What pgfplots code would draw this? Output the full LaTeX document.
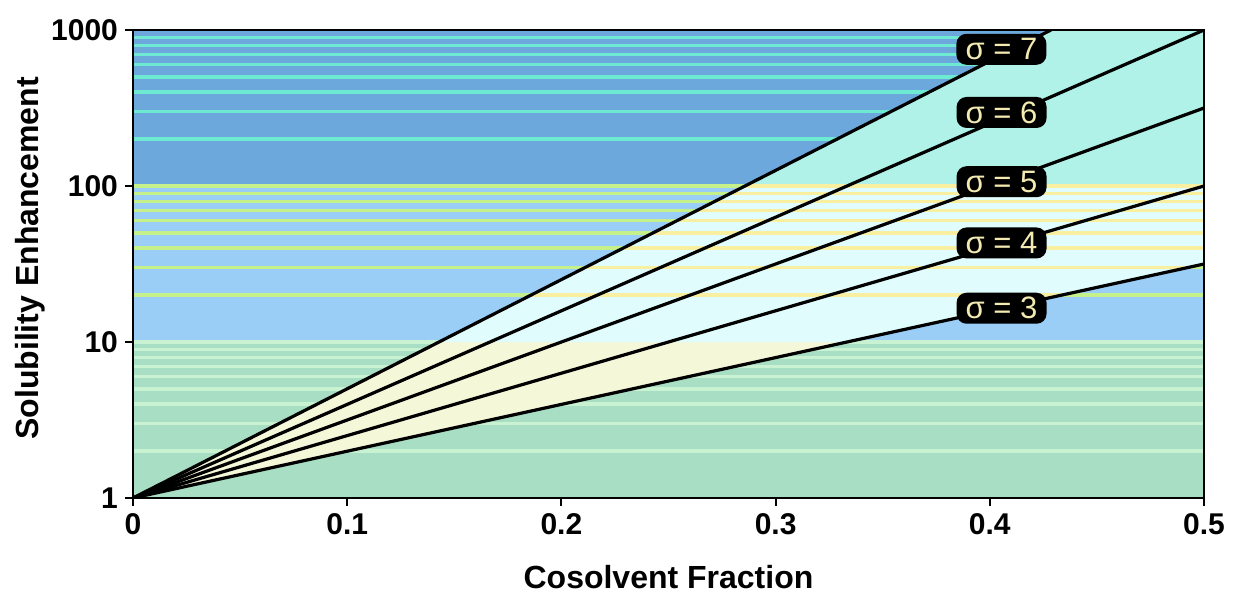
\documentclass[border=0pt]{standalone}
\usepackage{pgfplots}
\pgfplotsset{compat=1.18}
\usepackage{fontspec}
\setmainfont{Liberation Sans}
\definecolor{upbg}{HTML}{6CA8DC}
\definecolor{upline}{HTML}{6EEAD2}
\definecolor{midbg}{HTML}{9ACEF6}
\definecolor{midline}{HTML}{C6F08A}
\definecolor{lowbg}{HTML}{A8DEC4}
\definecolor{lowline}{HTML}{C8F2D2}
\definecolor{upfan}{HTML}{B0F2E8}
\definecolor{midfan}{HTML}{E0FCFC}
\definecolor{midfanline}{HTML}{F8F0A0}
\definecolor{lowfan}{HTML}{F4F7D8}
\definecolor{lbltext}{HTML}{F2EAB0}
\pgfplotsset{
  hl/.style={line width=1.6pt, forget plot},
  curve/.style={black, line width=1.6pt, forget plot},
}
\tikzset{
  lbl/.style={fill=black, text=lbltext, rounded corners=5pt, font=\fontsize{15.5}{16}\selectfont, minimum width=45pt, minimum height=15.5pt, inner sep=1pt},
}
\begin{document}
\begin{tikzpicture}
\begin{axis}[
  scale only axis, width=535.5pt, height=234pt,
  ymode=log, xmin=0, xmax=0.5, ymin=1, ymax=1000,
  xtick={0,0.1,0.2,0.3,0.4,0.5}, xticklabels={0,0.1,0.2,0.3,0.4,0.5},
  ytick={1,10,100,1000}, yticklabels={1,10,100,1000},
  yminorticks=false,
  tick align=outside, xtick pos=bottom, ytick pos=left, major tick length=4pt,
  tick style={black, line width=1pt},
  ticklabel style={font=\bfseries\fontsize{15}{15}\selectfont},
  /pgf/number format/assume math mode=true,
  xlabel={Cosolvent Fraction}, ylabel={Solubility Enhancement},
  label style={font=\bfseries\fontsize{16}{16}\selectfont},
  xlabel style={at={(axis description cs:0.5,-0.168)}, anchor=center},
  ylabel style={at={(axis description cs:-0.0962,0.512)}, anchor=center},
  axis on top,
  axis line style={black, line width=1.2pt},
]
% decade backgrounds
\addplot[fill=lowbg, draw=none, forget plot] coordinates {(0,1) (0.5,1) (0.5,10) (0,10)} -- cycle;
\addplot[fill=midbg, draw=none, forget plot] coordinates {(0,10) (0.5,10) (0.5,100) (0,100)} -- cycle;
\addplot[fill=upbg, draw=none, forget plot] coordinates {(0,100) (0.5,100) (0.5,1000) (0,1000)} -- cycle;
% decade lines 1-10
\addplot[hl, lowline] coordinates {(0,2) (0.5,2)};
\addplot[hl, lowline] coordinates {(0,3) (0.5,3)};
\addplot[hl, lowline] coordinates {(0,4) (0.5,4)};
\addplot[hl, lowline] coordinates {(0,5) (0.5,5)};
\addplot[hl, lowline] coordinates {(0,6) (0.5,6)};
\addplot[hl, lowline] coordinates {(0,7) (0.5,7)};
\addplot[hl, lowline] coordinates {(0,8) (0.5,8)};
\addplot[hl, lowline] coordinates {(0,9) (0.5,9)};
\addplot[hl, lowline] coordinates {(0,10) (0.5,10)};
% decade lines 10-100
\addplot[hl, midline] coordinates {(0,20) (0.5,20)};
\addplot[hl, midline] coordinates {(0,30) (0.5,30)};
\addplot[hl, midline] coordinates {(0,40) (0.5,40)};
\addplot[hl, midline] coordinates {(0,50) (0.5,50)};
\addplot[hl, midline] coordinates {(0,60) (0.5,60)};
\addplot[hl, midline] coordinates {(0,70) (0.5,70)};
\addplot[hl, midline] coordinates {(0,80) (0.5,80)};
\addplot[hl, midline] coordinates {(0,90) (0.5,90)};
\addplot[hl, midline] coordinates {(0,100) (0.5,100)};
% decade lines 100-1000
\addplot[hl, upline] coordinates {(0,200) (0.5,200)};
\addplot[hl, upline] coordinates {(0,300) (0.5,300)};
\addplot[hl, upline] coordinates {(0,400) (0.5,400)};
\addplot[hl, upline] coordinates {(0,500) (0.5,500)};
\addplot[hl, upline] coordinates {(0,600) (0.5,600)};
\addplot[hl, upline] coordinates {(0,700) (0.5,700)};
\addplot[hl, upline] coordinates {(0,800) (0.5,800)};
\addplot[hl, upline] coordinates {(0,900) (0.5,900)};
% fan regions
\addplot[fill=lowfan, draw=none, forget plot] coordinates {(0,1) (0.333333,10) (0.142857,10)} -- cycle;
\addplot[fill=midfan, draw=none, forget plot] coordinates {(0.142857,10) (0.333333,10) (0.5,31.6228) (0.5,100) (0.285714,100)} -- cycle;
\addplot[fill=upfan, draw=none, forget plot] coordinates {(0.285714,100) (0.5,100) (0.5,1000) (0.428571,1000)} -- cycle;
% lines inside the middle fan
\addplot[hl, midfanline] coordinates {(0.18586,20) (0.43368,20)};
\addplot[hl, midfanline] coordinates {(0.21102,30) (0.49237,30)};
\addplot[hl, midfanline] coordinates {(0.22887,40) (0.5,40)};
\addplot[hl, midfanline] coordinates {(0.24271,50) (0.5,50)};
\addplot[hl, midfanline] coordinates {(0.25402,60) (0.5,60)};
\addplot[hl, midfanline] coordinates {(0.26359,70) (0.5,70)};
\addplot[hl, midfanline] coordinates {(0.27187,80) (0.5,80)};
\addplot[hl, midfanline] coordinates {(0.27918,90) (0.5,90)};
\addplot[hl, midfanline] coordinates {(0.285714,100) (0.5,100)};
% sigma lines
\addplot[curve] coordinates {(0,1) (0.5,31.6228)} node[lbl, pos=0.811] {σ = 3};
\addplot[curve] coordinates {(0,1) (0.5,100)} node[lbl, pos=0.811, yshift=1pt] {σ = 4};
\addplot[curve] coordinates {(0,1) (0.5,316.228)} node[lbl, pos=0.811] {σ = 5};
\addplot[curve] coordinates {(0,1) (0.5,1000)} node[lbl, pos=0.811, yshift=3pt] {σ = 6};
\addplot[curve] coordinates {(0,1) (0.428571,1000)} node[lbl, pos=0.946, yshift=3pt] {σ = 7};
\end{axis}
\pgfresetboundingbox
\path ([xshift=-66.5pt,yshift=-48.5pt]current axis.south west) rectangle ([xshift=16pt,yshift=15pt]current axis.north east);
\end{tikzpicture}
\end{document}
